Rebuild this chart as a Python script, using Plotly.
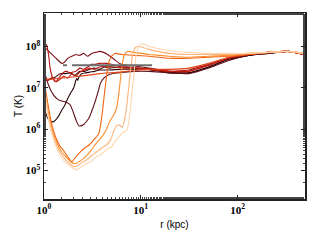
import plotly.graph_objects as go

# shared outer radii (kpc) where all profiles converge
tail_r = [12.2, 19.6, 31.4, 50.4, 80.9, 130, 208, 333, 498]

# ---- dark / red profiles ----
r_d1 = [1.00, 1.05, 1.10, 1.15, 1.24, 1.33, 1.43, 1.53, 1.64, 1.76, 1.89, 2.03, 2.13, 2.18, 2.23, 2.29, 2.45, 2.70, 2.96, 3.33, 3.75, 4.75, 6.03, 8.58]
T_d1 = [3.2e6, 2.3e6, 1.8e6, 1.6e6, 1.5e6, 1.7e6, 2.15e6, 2.9e6, 3.8e6, 5.5e6, 7.6e6, 1.0e7, 1.5e7, 1.7e7, 1.5e7, 1.8e7, 2.2e7, 2.3e7, 2.4e7, 2.5e7, 2.7e7, 2.7e7, 2.8e7, 2.8e7]
T_d1_tail = [2.8e7, 2.4e7, 2.3e7, 3.2e7, 4.9e7, 6.1e7, 6.8e7, 7.6e7, 6.4e7]

r_d2 = [1.00, 1.05, 1.10, 1.18, 1.27, 1.36, 1.46, 1.64, 1.85, 1.98, 2.08, 2.18, 2.29, 2.40, 2.57, 2.76, 2.96, 3.11, 3.33, 3.50, 3.67, 3.84, 4.13, 4.54, 4.98, 5.75, 6.77, 8.58]
T_d2 = [2.5e7, 1.8e7, 1.25e7, 8.5e6, 6.5e6, 5.5e6, 4.9e6, 4.6e6, 4.0e6, 2.8e6, 2.0e6, 1.5e6, 1.2e6, 1.2e6, 1.3e6, 1.55e6, 2.0e6, 2.7e6, 4.2e6, 6.1e6, 9.0e6, 1.3e7, 1.7e7, 2.0e7, 2.2e7, 2.3e7, 2.4e7, 2.5e7]
T_d2_tail = [2.5e7, 2.3e7, 2.2e7, 3.0e7, 4.6e7, 6.1e7, 6.8e7, 7.6e7, 6.4e7]

r_dk = [1.00, 1.15, 1.30, 1.46, 1.64, 1.85, 2.08, 2.34, 2.63, 2.96, 3.33, 3.75, 4.22, 4.75, 6.03, 8.58]
T_dk = [1.5e7, 1.6e7, 1.8e7, 2.2e7, 2.2e7, 2.3e7, 2.0e7, 2.5e7, 2.5e7, 2.8e7, 3.0e7, 2.8e7, 3.2e7, 3.0e7, 3.2e7, 3.0e7]
T_dk_tail = [2.8e7, 2.3e7, 2.3e7, 3.2e7, 4.9e7, 6.1e7, 6.8e7, 7.6e7, 6.4e7]

r_m1 = [1.00, 1.07, 1.15, 1.24, 1.33, 1.43, 1.53, 1.64, 1.76, 1.94, 2.13, 2.34, 2.57, 2.83, 3.11, 3.42, 3.75, 4.13, 4.54, 4.98, 5.48, 6.03, 7.28, 9.22]
T_m1 = [9.5e7, 8.5e7, 7.2e7, 6.1e7, 5.2e7, 4.4e7, 3.9e7, 4.2e7, 5.2e7, 5.8e7, 6.4e7, 6.1e7, 6.8e7, 5.8e7, 6.8e7, 7.2e7, 7.6e7, 7.2e7, 6.4e7, 5.5e7, 4.6e7, 3.9e7, 3.5e7, 3.3e7]
T_m1_tail = [3.0e7, 2.5e7, 2.5e7, 3.5e7, 5.2e7, 6.4e7, 7.2e7, 7.6e7, 6.4e7]

r_r1 = [1.00, 1.05, 1.07, 1.10, 1.13, 1.15, 1.21, 1.27, 1.33, 1.39, 1.49, 1.60, 1.72, 1.85, 1.98, 2.13, 2.34, 2.57, 2.83, 3.11, 3.42, 3.75, 4.33, 4.98, 6.03, 7.62, 9.66]
T_r1 = [1.0e8, 1.12e8, 1.06e8, 7.6e7, 4.9e7, 3.2e7, 1.9e7, 1.5e7, 1.4e7, 1.6e7, 2.0e7, 2.4e7, 2.5e7, 2.3e7, 2.4e7, 2.5e7, 3.0e7, 2.8e7, 3.2e7, 3.7e7, 3.7e7, 3.9e7, 3.9e7, 3.7e7, 3.3e7, 3.2e7, 3.0e7]
T_r1_tail = [2.8e7, 2.5e7, 2.7e7, 3.7e7, 5.2e7, 6.4e7, 7.2e7, 7.6e7, 6.4e7]

r_r2 = [1.00, 1.10, 1.21, 1.33, 1.46, 1.60, 1.76, 1.94, 2.13, 2.34, 2.63, 2.96, 3.33, 3.75, 4.54, 5.48, 6.77, 9.22]
T_r2 = [1.7e7, 1.5e7, 1.8e7, 1.4e7, 1.6e7, 1.9e7, 1.7e7, 2.2e7, 1.9e7, 2.4e7, 2.7e7, 3.0e7, 2.8e7, 3.2e7, 3.3e7, 3.2e7, 3.0e7, 3.0e7]
T_r2_tail = [2.8e7, 2.5e7, 2.5e7, 3.5e7, 5.2e7, 6.4e7, 7.2e7, 7.6e7, 6.4e7]

r_ro = [1.00, 1.46, 2.34, 3.75, 6.03, 9.66]
T_ro = [1.6e7, 1.7e7, 1.9e7, 2.2e7, 2.4e7, 2.7e7]
T_ro_tail = [2.8e7, 2.8e7, 3.0e7, 3.9e7, 5.5e7, 6.4e7, 7.2e7, 7.6e7, 6.4e7]

# ---- orange profiles (deep cooling cores) ----
r_o1 = [1.00, 1.05, 1.10, 1.15, 1.24, 1.33, 1.46, 1.60, 1.76, 1.94, 2.08, 2.34, 2.63, 2.96, 3.33, 3.67, 3.84, 4.03, 4.22, 4.43, 4.64, 4.98, 5.48, 6.32, 8.58]
T_o1 = [1.5e7, 7.6e6, 4.0e6, 2.15e6, 1.0e6, 6.1e5, 3.9e5, 3.0e5, 2.15e5, 1.6e5, 2.0e5, 2.7e5, 3.5e5, 4.2e5, 5.8e5, 7.6e5, 1.25e6, 2.8e6, 7.6e6, 1.9e7, 3.9e7, 5.8e7, 6.8e7, 6.4e7, 6.1e7]
T_o1_tail = [5.8e7, 5.2e7, 5.2e7, 5.5e7, 5.8e7, 6.4e7, 7.2e7, 7.6e7, 6.8e7]

r_o2 = [1.00, 1.05, 1.10, 1.18, 1.27, 1.39, 1.53, 1.68, 1.85, 2.08, 2.23, 2.45, 2.76, 3.11, 3.50, 3.94, 4.33, 4.75, 5.22, 5.61, 5.88, 6.16, 6.47, 6.77, 7.28, 8.58]
T_o2 = [1.3e7, 5.8e6, 2.8e6, 1.3e6, 7.2e5, 4.2e5, 2.8e5, 2.15e5, 1.7e5, 1.45e5, 1.55e5, 1.8e5, 2.3e5, 3.2e5, 4.7e5, 6.4e5, 9.0e5, 1.5e6, 2.15e6, 3.2e6, 6.1e6, 1.6e7, 3.9e7, 6.4e7, 7.6e7, 7.2e7]
T_o2_tail = [6.4e7, 5.8e7, 5.5e7, 5.8e7, 6.1e7, 6.8e7, 7.2e7, 7.6e7, 6.8e7]

r_o3 = [1.00, 1.05, 1.10, 1.18, 1.27, 1.39, 1.53, 1.68, 1.85, 2.03, 2.23, 2.45, 2.76, 3.11, 3.50, 3.94, 4.43, 4.87, 5.22, 5.61, 6.03, 6.47, 6.77, 7.10, 7.45, 7.81, 8.18, 8.79, 9.66]
T_o3 = [1.2e7, 4.9e6, 2.4e6, 1.1e6, 6.1e5, 3.5e5, 2.4e5, 1.8e5, 1.45e5, 1.25e5, 1.3e5, 1.55e5, 1.8e5, 2.3e5, 2.8e5, 3.5e5, 4.2e5, 5.5e5, 8.5e5, 1.2e6, 1.25e6, 1.1e6, 1.6e6, 3.2e6, 8.5e6, 2.5e7, 5.8e7, 9.5e7, 1.0e8]
T_o3_tail = [8.5e7, 6.8e7, 6.4e7, 6.4e7, 6.4e7, 6.8e7, 7.2e7, 7.6e7, 6.8e7]

r_o4 = [1.00, 1.05, 1.10, 1.18, 1.27, 1.39, 1.53, 1.68, 1.85, 2.03, 2.23, 2.45, 2.76, 3.11, 3.50, 3.94, 4.43, 4.98, 5.48, 6.03, 6.63, 7.10, 7.45, 7.81, 8.18, 8.58, 9.00, 9.66, 10.3]
T_o4 = [1.0e7, 4.4e6, 2.0e6, 9.0e5, 5.2e5, 3.0e5, 2.0e5, 1.55e5, 1.3e5, 1.12e5, 1.05e5, 1.25e5, 1.45e5, 1.7e5, 2.15e5, 2.5e5, 3.2e5, 3.7e5, 5.2e5, 6.8e5, 8.5e5, 9.0e5, 1.3e6, 3.2e6, 9.0e6, 2.8e7, 6.8e7, 1.06e8, 1.18e8]
T_o4_tail = [1.0e8, 8.0e7, 7.2e7, 6.8e7, 6.8e7, 6.8e7, 7.2e7, 7.6e7, 6.8e7]

# reference level (grey dashed)
r_ref = [1.57, 13.1]
T_ref = [3.5e7, 3.5e7]

profiles = [
    (r_dk, T_dk, T_dk_tail, "#3a0a0a"),
    (r_d1, T_d1, T_d1_tail, "#2a0606"),
    (r_d2, T_d2, T_d2_tail, "#5e0e16"),
    (r_m1, T_m1, T_m1_tail, "#7d1218"),
    (r_r1, T_r1, T_r1_tail, "#b01010"),
    (r_r2, T_r2, T_r2_tail, "#c41c0c"),
    (r_ro, T_ro, T_ro_tail, "#e2441a"),
    (r_o1, T_o1, T_o1_tail, "#f06412"),
    (r_o2, T_o2, T_o2_tail, "#fb8c2c"),
    (r_o3, T_o3, T_o3_tail, "#fdb47a"),
    (r_o4, T_o4, T_o4_tail, "#fed6b0"),
]

fig = go.Figure()
for r, T, Tt, col in profiles:
    fig.add_trace(go.Scatter(x=r + tail_r, y=T + Tt, mode="lines",
                             line=dict(color=col, width=1.1, shape="spline", smoothing=0.4),
                             showlegend=False, hoverinfo="skip"))

fig.add_trace(go.Scatter(x=r_ref, y=T_ref, mode="lines",
                         line=dict(color="#6e6e6e", width=2, dash="4px,5px,300px"),
                         showlegend=False, hoverinfo="skip"))

tickfont = dict(family="Liberation Serif", size=11, color="black", weight="bold")
axis_common = dict(type="log", showline=True, linecolor="#222", linewidth=1.5, mirror="allticks",
                   ticks="inside", ticklen=4, tickcolor="#222", showgrid=False, zeroline=False,
                   minor=dict(ticks="inside", ticklen=2, tickcolor="#444", showgrid=False),
                   tickfont=tickfont)

fig.update_xaxes(range=[0, 2.697], tickvals=[1, 10, 100],
                 ticktext=["10<sup>0</sup>", "10<sup>1</sup>", "10<sup>2</sup>"],
                 title=dict(text="r (kpc)", font=dict(family="Liberation Sans", size=10, color="black"), standoff=6),
                 **axis_common)
fig.update_yaxes(range=[4.31, 8.81], tickvals=[1e5, 1e6, 1e7, 1e8],
                 ticktext=["10<sup>5</sup>", "10<sup>6</sup>", "10<sup>7</sup>", "10<sup>8</sup>"],
                 title=dict(text="T (K)", font=dict(family="Liberation Sans", size=10, color="black"), standoff=1),
                 **axis_common)

fig.update_layout(width=318, height=240, margin=dict(l=44, r=11, t=11, b=40),
                  plot_bgcolor="white", paper_bgcolor="white", hovermode=False)

fig.write_html("out.html", config={"displayModeBar": False, "staticPlot": True},
               post_script="document.body.style.margin='0';document.body.style.overflow='hidden';")
